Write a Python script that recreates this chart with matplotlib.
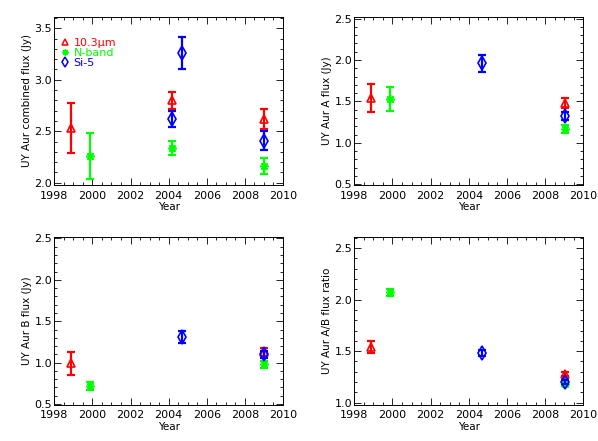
import matplotlib.pyplot as plt
from matplotlib.lines import Line2D
from matplotlib.ticker import MultipleLocator

# observation epochs
yr_red = [1998.88, 2004.16, 2009.03]
yr_grn = [1999.87, 2004.16, 2009.03]
yr_blu = [2004.16, 2004.68, 2009.03]

# combined flux (Jy)
comb_red = [2.53, 2.80, 2.62]
comb_red_err = [0.24, 0.08, 0.10]
comb_grn = [2.26, 2.34, 2.16]
comb_grn_err = [0.22, 0.07, 0.08]
comb_blu = [2.62, 3.26, 2.41]
comb_blu_err = [0.08, 0.16, 0.09]

# A / B fluxes and ratio (one fewer blue epoch)
yr_red2 = [1998.88, 2009.03]
yr_grn2 = [1999.87, 2009.03]
yr_blu2 = [2004.68, 2009.03]

a_red = [1.54, 1.48]
a_red_err = [0.17, 0.06]
a_grn = [1.53, 1.17]
a_grn_err = [0.14, 0.05]
a_blu = [1.96, 1.32]
a_blu_err = [0.10, 0.05]

b_red = [0.99, 1.13]
b_red_err = [0.14, 0.05]
b_grn = [0.72, 0.98]
b_grn_err = [0.05, 0.04]
b_blu = [1.31, 1.10]
b_blu_err = [0.07, 0.04]

r_red = [1.54, 1.28]
r_red_err = [0.06, 0.02]
r_grn = [2.07, 1.18]
r_grn_err = [0.03, 0.02]
r_blu = [1.48, 1.20]
r_blu_err = [0.03, 0.02]

labels = ['10.3\u00b5m', 'N-band', 'Si-5']
colors = ['#ff0000', '#00ff00', '#0000ff']
markers = ['^', (8, 2, 0), 'd']
msizes = [5.5, 6, 7]

plt.rcParams['font.family'] = 'DejaVu Sans'
plt.rcParams['font.size'] = 7

fig = plt.figure(figsize=(5.98, 4.41), dpi=100)
boxes = [
    [0.0908, 0.5805, 0.3824, 0.381],
    [0.5925, 0.5805, 0.3829, 0.381],
    [0.0908, 0.082, 0.3824, 0.381],
    [0.5925, 0.082, 0.3829, 0.381],
]
axs = [fig.add_axes(b) for b in boxes]

panels = [
    ([yr_red, yr_grn, yr_blu],
     [comb_red, comb_grn, comb_blu],
     [comb_red_err, comb_grn_err, comb_blu_err],
     'UY Aur combined flux (Jy)', (1.978, 3.61)),
    ([yr_red2, yr_grn2, yr_blu2],
     [a_red, a_grn, a_blu],
     [a_red_err, a_grn_err, a_blu_err],
     'UY Aur A flux (Jy)', (0.49, 2.52)),
    ([yr_red2, yr_grn2, yr_blu2],
     [b_red, b_grn, b_blu],
     [b_red_err, b_grn_err, b_blu_err],
     'UY Aur B flux (Jy)', (0.49, 2.52)),
    ([yr_red2, yr_grn2, yr_blu2],
     [r_red, r_grn, r_blu],
     [r_red_err, r_grn_err, r_blu_err],
     'UY Aur A/B flux ratio', (0.978, 2.61)),
]

for ax, (xs, ys, es, ylab, ylim) in zip(axs, panels):
    for x, y, e, c, m, s in zip(xs, ys, es, colors, markers, msizes):
        ax.errorbar(x, y, yerr=e, fmt='none', ecolor=c, elinewidth=1.6,
                    capsize=3, capthick=1.6)
        ax.plot(x, y, linestyle='none', marker=m, markersize=s,
                markerfacecolor='none', markeredgecolor=c, markeredgewidth=1.2)
    ax.set_xlim(1998, 2010)
    ax.set_ylim(*ylim)
    ax.xaxis.set_major_locator(MultipleLocator(2))
    ax.xaxis.set_minor_locator(MultipleLocator(0.5))
    ax.yaxis.set_major_locator(MultipleLocator(0.5))
    ax.yaxis.set_minor_locator(MultipleLocator(0.1))
    ax.tick_params(which='both', direction='in', top=True, right=True,
                   width=0.6, labelsize=8)
    ax.tick_params(axis='x', pad=4)
    ax.tick_params(axis='y', pad=1.5)
    ax.tick_params(which='major', length=5)
    ax.tick_params(which='minor', length=2.5)
    for sp in ax.spines.values():
        sp.set_linewidth(0.7)
    ax.set_xlabel('Year', fontsize=7.5, labelpad=1)
    ax.set_ylabel(ylab, fontsize=7.5, labelpad=2)

handles = [Line2D([], [], linestyle='none', marker=m, color=c,
                  markerfacecolor='none', markersize=s - 1.5,
                  markeredgewidth=1.1)
           for m, c, s in zip(markers, colors, msizes)]
leg = axs[0].legend(handles, labels, loc='upper left', frameon=False,
                    handlelength=0.5, handletextpad=0.5, labelspacing=0.0,
                    fontsize=8, borderaxespad=0.0, borderpad=0.0,
                    bbox_to_anchor=(0.035, 0.875))
for t, c in zip(leg.get_texts(), colors):
    t.set_color(c)

fig.savefig('out.png', dpi=100)
